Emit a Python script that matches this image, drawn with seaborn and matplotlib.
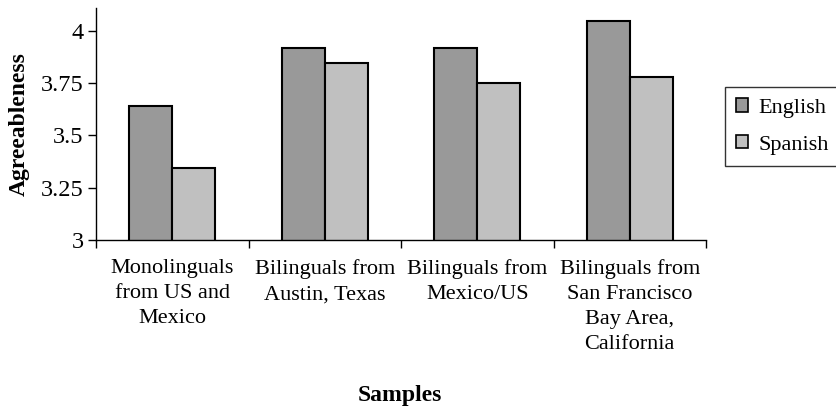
import pandas as pd
import seaborn as sns
import matplotlib.pyplot as plt
from matplotlib.ticker import FixedLocator
from matplotlib.patches import Patch

# data
samples = ['Monolinguals\nfrom US and\nMexico',
           'Bilinguals from\nAustin, Texas',
           'Bilinguals from\nMexico/US',
           'Bilinguals from\nSan Francisco\nBay Area,\nCalifornia']
english = [3.64, 3.92, 3.92, 4.05]
spanish = [3.345, 3.848, 3.752, 3.778]
y_ticks = [3, 3.25, 3.5, 3.75, 4]
y_tick_labels = ['3', '3.25', '3.5', '3.75', '4']

df = pd.DataFrame({
    'Sample': samples * 2,
    'Language': ['English'] * 4 + ['Spanish'] * 4,
    'Agreeableness': english + spanish,
})

sns.set_theme(style='white')
plt.rcParams['font.family'] = ['Liberation Serif', 'DejaVu Serif']
plt.rcParams['text.color'] = 'black'
plt.rcParams['axes.labelcolor'] = 'black'
plt.rcParams['xtick.color'] = 'black'
plt.rcParams['ytick.color'] = 'black'

fig = plt.figure(figsize=(8.36, 4.07), dpi=100)
ax = fig.add_axes([96 / 836, 1 - 240 / 407, 610 / 836, 232 / 407])

sns.barplot(data=df, x='Sample', y='Agreeableness', hue='Language',
            palette={'English': '#999999', 'Spanish': '#c0c0c0'},
            width=0.565, edgecolor='black', linewidth=1.5,
            saturation=1, ax=ax, legend=False)

ax.set_ylim(3, 4.11)
ax.set_xlim(-0.5, 3.5)
ax.set_yticks(y_ticks)
ax.set_yticklabels(y_tick_labels, fontsize=17.5)
ax.set_xticks(range(len(samples)))
ax.set_xticklabels(samples, fontsize=16, linespacing=1.42)
ax.xaxis.set_minor_locator(FixedLocator([-0.5, 0.5, 1.5, 2.5, 3.5]))
ax.tick_params(axis='x', which='major', length=0, pad=14)
ax.tick_params(axis='x', which='minor', length=6, width=1,
               direction='out', bottom=True)
ax.tick_params(axis='y', length=6, width=1, direction='out',
               left=True, pad=3)

for side in ['top', 'right']:
    ax.spines[side].set_visible(False)
for side in ['left', 'bottom']:
    ax.spines[side].set_color('black')
    ax.spines[side].set_linewidth(1)

ax.set_ylabel('Agreeableness', fontsize=17, fontweight='bold', labelpad=8)
ax.set_xlabel('')
fig.text(400 / 836, 1 - 396 / 407, 'Samples', fontsize=17, fontweight='bold',
         ha='center', va='center')

# legend
handles = [Patch(facecolor='#999999', edgecolor='black', linewidth=1.2, label='English'),
           Patch(facecolor='#c0c0c0', edgecolor='black', linewidth=1.2, label='Spanish')]
leg = fig.legend(handles=handles, loc='upper left',
                 bbox_to_anchor=(725 / 836, 1 - 87 / 407), borderaxespad=0,
                 fontsize=16, frameon=True, fancybox=False,
                 handlelength=0.55, handleheight=0.55, handletextpad=0.45,
                 labelspacing=0.78, borderpad=0.5)
leg.get_frame().set_edgecolor('black')
leg.get_frame().set_linewidth(1)

fig.savefig('out.png', dpi=100)
